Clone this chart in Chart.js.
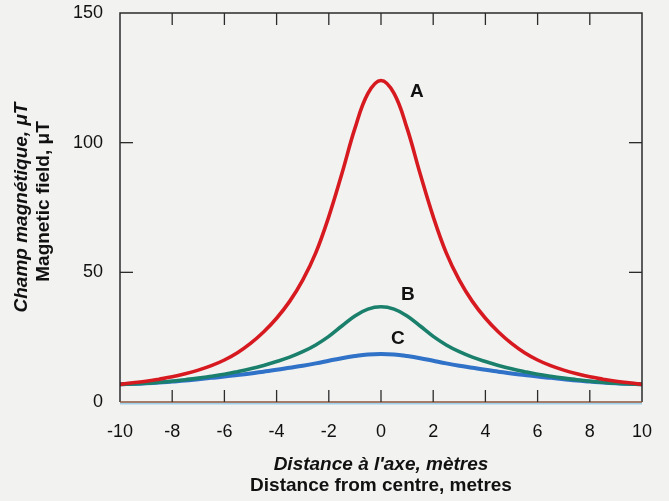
<!DOCTYPE html>
<html>
<head>
<meta charset="utf-8">
<script src="https://cdn.jsdelivr.net/npm/chart.js@4.4.1/dist/chart.umd.min.js"></script>
<style>
  html, body { margin: 0; padding: 0; background: #f2f2f1; }
  #wrap { width: 669px; height: 501px; }
</style>
</head>
<body>
<div id="wrap"><canvas id="fieldChart" width="669" height="501"></canvas></div>
<script>
// Distance from the line axis (m), every half metre, and field strength (µT) for the three cases
const distance = [-10, -9.5, -9, -8.5, -8, -7.5, -7, -6.5, -6, -5.5, -5, -4.5, -4, -3.5, -3, -2.5, -2, -1.5, -1, -0.5,
                  0, 0.5, 1, 1.5, 2, 2.5, 3, 3.5, 4, 4.5, 5, 5.5, 6, 6.5, 7, 7.5, 8, 8.5, 9, 9.5, 10];
const fieldA = [6.8, 7.4, 8, 8.8, 9.7, 10.9, 12.3, 14, 16.2, 19, 22.6, 27, 32.3, 38.8, 47, 57.5, 71.5, 88, 105.5, 119,
                124, 119, 105.5, 88, 71.5, 57.5, 47, 38.8, 32.3, 27, 22.6, 19, 16.2, 14, 12.3, 10.9, 9.7, 8.8, 8, 7.4, 6.8];
const fieldB = [6.8, 7.0, 7.2, 7.6, 8.0, 8.6, 9.2, 9.9, 10.7, 11.7, 12.8, 14.1, 15.6, 17.3, 19.4, 22, 25.3, 29.3, 33.2, 35.8,
                36.7, 35.8, 33.2, 29.3, 25.3, 22, 19.4, 17.3, 15.6, 14.1, 12.8, 11.7, 10.7, 9.9, 9.2, 8.6, 8.0, 7.6, 7.2, 7.0, 6.8];
const fieldC = [6.8, 7.0, 7.2, 7.5, 7.9, 8.3, 8.8, 9.3, 9.8, 10.4, 11.0, 11.7, 12.4, 13.2, 14.0, 14.9, 15.9, 16.9, 17.7, 18.3,
                18.5, 18.3, 17.7, 16.9, 15.9, 14.9, 14.0, 13.2, 12.4, 11.7, 11.0, 10.4, 9.8, 9.3, 8.8, 8.3, 7.9, 7.5, 7.2, 7.0, 6.8];
const curveNames = ["A", "B", "C"];
const xTicks = [-10, -8, -6, -4, -2, 0, 2, 4, 6, 8, 10];
const yTicks = [0, 50, 100, 150];

const toPoints = (ys) => distance.map((d, i) => ({ x: d, y: ys[i] }));

const FONT = '"Liberation Sans", Arial, Helvetica, sans-serif';

const paper = {
  id: "paper",
  beforeDraw(chart) {
    const { ctx, width, height } = chart;
    ctx.save();
    ctx.fillStyle = "#f2f2f1";
    ctx.fillRect(0, 0, width, height);
    ctx.restore();
  }
};

// box around the plot with short inward ticks on all four sides
const frame = {
  id: "frame",
  afterDatasetsDraw(chart) {
    const { ctx, chartArea: a, scales: { x, y } } = chart;
    const seg = (x1, y1, x2, y2) => { ctx.beginPath(); ctx.moveTo(x1, y1); ctx.lineTo(x2, y2); ctx.stroke(); };
    ctx.save();
    ctx.lineWidth = 1.5;
    ctx.strokeStyle = "#2b2b2b";
    ctx.beginPath();
    ctx.moveTo(a.left, a.bottom);
    ctx.lineTo(a.left, a.top);
    ctx.lineTo(a.right, a.top);
    ctx.lineTo(a.right, a.bottom);
    ctx.stroke();

    ctx.strokeStyle = "rgba(150, 205, 235, 0.9)";
    seg(a.left, a.bottom + 1.8, a.right, a.bottom + 1.8);
    ctx.strokeStyle = "#8a5538";
    seg(a.left, a.bottom, a.right, a.bottom);

    ctx.strokeStyle = "#2b2b2b";
    ctx.lineWidth = 1.3;
    xTicks.slice(1, -1).forEach(v => {
      const px = x.getPixelForValue(v);
      seg(px, a.bottom, px, a.bottom - 12);
      seg(px, a.top, px, a.top + 12);
    });
    yTicks.slice(1, -1).forEach(v => {
      const py = y.getPixelForValue(v);
      seg(a.left, py, a.left + 13, py);
      seg(a.right, py, a.right - 13, py);
    });
    ctx.restore();
  }
};

// axis titles (French / English) and curve names
const captions = {
  id: "captions",
  afterDraw(chart) {
    const { ctx, chartArea: a, scales: { x, y } } = chart;
    ctx.save();
    ctx.fillStyle = "#111";
    ctx.textAlign = "center";
    ctx.textBaseline = "middle";

    const cx = (a.left + a.right) / 2;
    ctx.font = "italic bold 19px " + FONT;
    ctx.fillText("Distance à l'axe, mètres", cx, 465);
    ctx.font = "bold 19px " + FONT;
    ctx.fillText("Distance from centre, metres", cx, 486);

    const cy = (a.top + a.bottom) / 2;
    ctx.save();
    ctx.translate(22, cy);
    ctx.rotate(-Math.PI / 2);
    ctx.font = "italic bold 19px " + FONT;
    ctx.fillText("Champ magnétique, μT", 0, 0);
    ctx.restore();
    ctx.save();
    ctx.translate(44, cy - 6);
    ctx.rotate(-Math.PI / 2);
    ctx.font = "bold 19px " + FONT;
    ctx.fillText("Magnetic field, μT", 0, 0);
    ctx.restore();

    const at = { A: [1.37, 119.6], B: [1.03, 41.2], C: [0.65, 24.3] };
    ctx.font = "bold 19px " + FONT;
    curveNames.forEach(n => {
      ctx.fillText(n, x.getPixelForValue(at[n][0]), y.getPixelForValue(at[n][1]));
    });
    ctx.restore();
  }
};

const line = (data, color, width) => ({
  data: toPoints(data),
  borderColor: color,
  borderWidth: width,
  pointRadius: 0,
  fill: false,
  tension: 0.4
});

new Chart(document.getElementById("fieldChart"), {
  type: "line",
  data: {
    datasets: [
      line(fieldA, "#d71920", 3.6),
      line(fieldB, "#1a806c", 3.6),
      line(fieldC, "#2f72c8", 4)
    ]
  },
  options: {
    responsive: false,
    animation: false,
    layout: { padding: { top: 13, right: 27, bottom: 0, left: 0 } },
    plugins: { legend: { display: false }, tooltip: { enabled: false } },
    scales: {
      x: {
        type: "linear",
        min: -10,
        max: 10,
        afterBuildTicks: s => { s.ticks = xTicks.map(v => ({ value: v })); },
        afterFit: s => { s.height = 99; s.paddingLeft = 0; s.paddingRight = 0; },
        grid: { display: false, drawTicks: false },
        border: { display: false },
        ticks: { padding: 19, color: "#111", font: { family: FONT, size: 18 } }
      },
      y: {
        min: 0,
        max: 150,
        afterBuildTicks: s => { s.ticks = yTicks.map(v => ({ value: v })); },
        afterFit: s => { s.width = 120; s.paddingTop = 0; s.paddingBottom = 0; },
        grid: { display: false, drawTicks: false },
        border: { display: false },
        ticks: { padding: 17, color: "#111", font: { family: FONT, size: 18 } }
      }
    }
  },
  plugins: [paper, frame, captions]
});
</script>
</body>
</html>
